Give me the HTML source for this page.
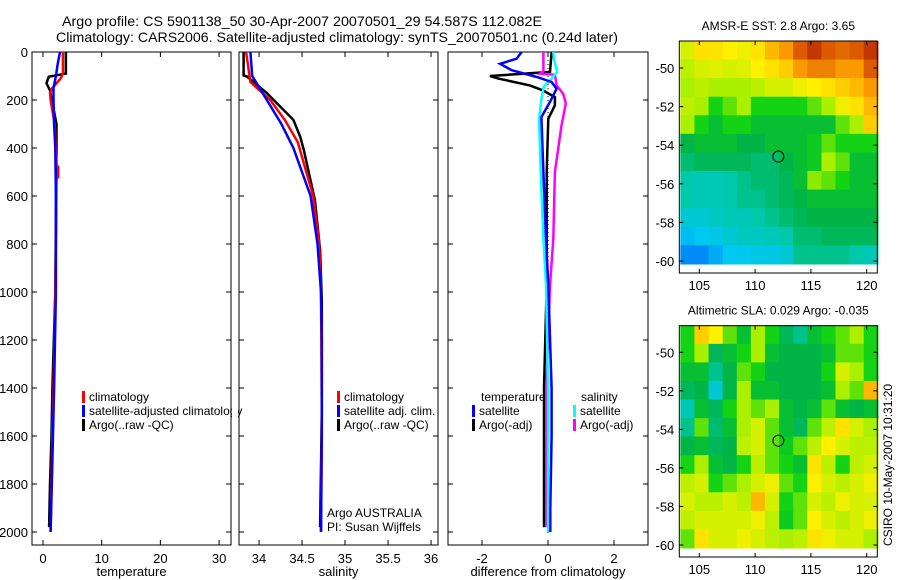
<!DOCTYPE html>
<html><head><meta charset="utf-8"><style>
html,body{margin:0;padding:0;background:#fff;}
svg{display:block;font-family:"Liberation Sans",Arial,sans-serif;}
</style></head><body>
<svg id="chart" width="900" height="580" viewBox="0 0 900 580" xmlns="http://www.w3.org/2000/svg">
<text x="62" y="26" font-size="14" textLength="480" lengthAdjust="spacingAndGlyphs">Argo profile: CS 5901138_50 30-Apr-2007 20070501_29 54.587S 112.082E</text>
<text x="56" y="42" font-size="14" textLength="562" lengthAdjust="spacingAndGlyphs">Climatology: CARS2006. Satellite-adjusted climatology: synTS_20070501.nc (0.24d later)</text>
<g id="plots"></g>
<text x="327" y="517" font-size="12">Argo AUSTRALIA</text>
<text x="327" y="531" font-size="12">PI: Susan Wijffels</text>
<text transform="translate(892,546) rotate(-90)" font-size="12">CSIRO 10-May-2007 10:31:20</text>
</svg>
<script>
// ---------- profile data ----------
const tempClimP = [0,90,110,130,150,170,200,300,470,480,520,530,800,1200,1600,2000];
const tempClimV = [3.4,3.4,3.0,2.3,1.6,1.2,1.3,2.0,2.3,2.6,2.6,2.3,2.2,2.0,1.6,1.3];
const tempSatP = [0,50,100,150,200,300,400,600,1000,1400,1700,1900,2000];
const tempSatV = [2.9,2.5,2.2,1.8,1.8,1.9,2.1,2.2,2.2,1.9,1.6,1.4,1.3];
const tempArgoP = [0,90,103,130,160,200,300,400,1000,1400,1600,1800,1980];
const tempArgoV = [3.9,3.9,1.0,0.6,1.2,1.5,2.3,2.3,2.1,1.6,1.45,1.2,1.05];

const salClimP = [0,125,200,283,375,600,800,1000,1500,2000];
const salClimV = [33.85,33.9,34.13,34.3,34.45,34.63,34.70,34.72,34.73,34.72];
const salSatP = [0,100,200,300,400,600,800,1000,1200,1600,2000];
const salSatV = [33.9,33.92,34.09,34.26,34.4,34.6,34.68,34.72,34.73,34.73,34.72];
const salArgoP = [0,98,102,171,283,354,408,617,825,1033,1500,1980];
const salArgoV = [33.82,33.82,33.86,34.09,34.40,34.48,34.52,34.65,34.71,34.73,34.73,34.71];

const dTsatP = [0,28,49,76,104,125,153,208,271,500,778,972,1400,1600,1900,2000];
const dTsatV = [-0.8,-0.95,-1.45,-1.1,-0.34,0.11,0.26,0.06,-0.2,-0.14,-0.06,0.01,0.11,0.11,0.07,0.07];
const dTargoP = [0,83,100,111,139,160,188,222,278,500,972,1400,1980];
const dTargoV = [0.11,0.06,-1.76,-1.5,-0.55,-0.15,0.21,0.21,0.01,-0.04,-0.04,-0.12,-0.12];
const dSargoP = [0,80,90,95,139,174,215,306,500,778,972,1400,1980];
const dSargoV = [-0.14,-0.14,-0.24,0.21,0.26,0.46,0.54,0.41,0.21,0.16,0.06,-0.05,-0.05];
const dSsatP = [0,30,83,111,146,194,278,500,778,972,1400,2000];
const dSsatV = [0.16,0.18,0.28,0.11,-0.13,-0.2,-0.27,-0.22,-0.14,-0.06,0.0,0.0];

const depthTicks = [0,200,400,600,800,1000,1200,1400,1600,1800,2000];
const tempTicks = [0,10,20,30];
const salTicks = [34,34.5,35,35.5,36];
const diffTicks = [-2,0,2];

// ---------- map data ----------
const mapLons = [103.3,121.0];
const mapLats = [-48.6,-60.15];
const lonTicks = [105,110,115,120];
const latTicks = [-50,-52,-54,-56,-58,-60];
const argoLon = 112.082;
const argoLat = -54.587;
const sstGrid = [
[0.65,0.72,0.72,0.7,0.68,0.72,0.78,0.82,0.9,0.95,0.9,0.88,0.9,0.95],
[0.62,0.65,0.66,0.65,0.66,0.7,0.72,0.75,0.82,0.85,0.85,0.82,0.82,0.9],
[0.6,0.62,0.6,0.6,0.6,0.62,0.65,0.65,0.68,0.7,0.72,0.75,0.78,0.82],
[0.62,0.6,0.5,0.55,0.6,0.5,0.5,0.5,0.5,0.55,0.6,0.68,0.72,0.78],
[0.6,0.5,0.45,0.5,0.5,0.45,0.45,0.45,0.45,0.45,0.45,0.55,0.6,0.75],
[0.42,0.45,0.45,0.45,0.42,0.42,0.45,0.45,0.45,0.48,0.55,0.5,0.5,0.5],
[0.38,0.4,0.4,0.4,0.4,0.38,0.38,0.42,0.45,0.48,0.6,0.55,0.45,0.45],
[0.32,0.3,0.3,0.32,0.35,0.38,0.38,0.4,0.45,0.58,0.55,0.5,0.45,0.45],
[0.32,0.3,0.3,0.32,0.35,0.35,0.38,0.4,0.42,0.45,0.45,0.45,0.45,0.45],
[0.25,0.25,0.28,0.3,0.3,0.32,0.35,0.38,0.4,0.42,0.42,0.42,0.42,0.42],
[0.18,0.2,0.22,0.25,0.28,0.28,0.3,0.32,0.38,0.38,0.4,0.4,0.4,0.4],
[0.1,0.1,0.15,0.2,0.2,0.22,0.22,0.25,0.35,0.35,0.35,0.35,0.32,0.3]
];
const slaGrid = [
[0.5,0.75,0.7,0.55,0.45,0.6,0.5,0.4,0.35,0.45,0.5,0.55,0.6,0.5],
[0.5,0.6,0.4,0.45,0.5,0.6,0.45,0.42,0.42,0.42,0.45,0.55,0.55,0.5],
[0.45,0.45,0.35,0.42,0.55,0.5,0.42,0.42,0.42,0.42,0.5,0.65,0.6,0.5],
[0.4,0.42,0.25,0.42,0.6,0.45,0.45,0.42,0.42,0.42,0.45,0.6,0.55,0.78],
[0.3,0.45,0.4,0.5,0.6,0.55,0.6,0.45,0.42,0.45,0.55,0.45,0.42,0.45],
[0.35,0.55,0.38,0.45,0.6,0.65,0.55,0.45,0.4,0.55,0.62,0.72,0.65,0.6],
[0.42,0.45,0.4,0.42,0.62,0.65,0.55,0.48,0.55,0.62,0.7,0.65,0.62,0.62],
[0.5,0.6,0.45,0.42,0.5,0.62,0.55,0.5,0.45,0.72,0.62,0.5,0.62,0.65],
[0.62,0.65,0.5,0.55,0.6,0.65,0.68,0.55,0.5,0.7,0.65,0.62,0.65,0.68],
[0.65,0.62,0.62,0.65,0.62,0.78,0.65,0.5,0.55,0.65,0.62,0.68,0.65,0.65],
[0.62,0.65,0.65,0.65,0.65,0.68,0.62,0.48,0.55,0.7,0.65,0.62,0.65,0.68],
[0.55,0.72,0.65,0.65,0.68,0.65,0.62,0.6,0.62,0.72,0.68,0.65,0.65,0.6]
];

const NS = "http://www.w3.org/2000/svg";
const root = document.getElementById('plots');
function mk(tag, attrs, parent){
  const e = document.createElementNS(NS, tag);
  for (const k in attrs) e.setAttribute(k, attrs[k]);
  (parent||root).appendChild(e);
  return e;
}
// depth axis
const yTop = 52, yPx = 0.24;
const yDepth = p => yTop + p*yPx;
const PB = 545;

function panel(name, x0, x1, dmin, dmax, ticks, label, leftLabels){
  const xs = v => x0 + (v-dmin)/(dmax-dmin)*(x1-x0);
  const g = mk('g', {});
  
  
  const fr = mk('rect', {x:x0, y:yTop, width:x1-x0, height:PB-yTop, fill:'none', stroke:'#000', 'stroke-width':1}, g);
  
  
  ticks.forEach(t=>{
    const x = xs(t);
    mk('line',{x1:x,x2:x,y1:PB,y2:PB-5,stroke:'#000'},g);
    mk('line',{x1:x,x2:x,y1:yTop,y2:yTop+5,stroke:'#000'},g);
    const tl = mk('text',{x:x,y:PB+18,'font-size':13,'text-anchor':'middle'},g);
    tl.textContent = t;
    
    
  });
  depthTicks.forEach(p=>{
    const y = yDepth(p);
    mk('line',{x1:x0,x2:x0+5,y1:y,y2:y,stroke:'#000'},g);
    mk('line',{x1:x1,x2:x1-5,y1:y,y2:y,stroke:'#000'},g);
    if (leftLabels){
      const tl = mk('text',{x:28,y:y+5,'font-size':13,'text-anchor':'end'},g);
      tl.textContent = p;
      
      
    }
  });
  const al = mk('text',{x:(x0+x1)/2,y:576,'font-size':13,'text-anchor':'middle'},g);
  al.textContent = label;
  
  
  return {g, xs};
}
function series(pan, P, V, color, w, nm){
  const pts = P.map((p,i)=>pan.xs(V[i]).toFixed(1)+','+yDepth(p).toFixed(1)).join(' ');
  const l = mk('polyline',{points:pts,fill:'none',stroke:color,'stroke-width':w,'stroke-linejoin':'miter'},pan.g);
  
  
}
function legend(pan, x, y, color, text, nm){
  const b = mk('rect',{x:x,y:y-9,width:3,height:12,fill:color},pan.g);
  
  
  if (text){
    const t = mk('text',{x:x+7,y:y+1,'font-size':12},pan.g);
    t.textContent = text;
    
    
  }
}

// temperature panel
const pT = panel('temperature-panel', 32, 231, -1.87, 32.03, tempTicks, 'temperature', true);
series(pT, tempArgoP, tempArgoV, '#000', 2.5, 'temp-argo-line');
series(pT, tempClimP, tempClimV, '#f00', 2.5, 'temp-climatology-line');
series(pT, tempSatP, tempSatV, '#00f', 2.5, 'temp-satellite-line');
legend(pT, 82, 400, '#f00', 'climatology', 'legend-climatology');
legend(pT, 82, 414, '#00f', 'satellite-adjusted climatology', 'legend-satellite-adjusted');
legend(pT, 82, 428, '#000', 'Argo(..raw -QC)', 'legend-argo');
mk('rect',{x:232,y:380,width:6,height:60,fill:'#fff'});

// salinity panel
const pS = panel('salinity-panel', 239, 438, 33.767, 36.081, salTicks, 'salinity', false);
series(pS, salArgoP, salArgoV, '#000', 2.5, 'sal-argo-line');
series(pS, salClimP, salClimV, '#f00', 2.5, 'sal-climatology-line');
series(pS, salSatP, salSatV, '#00f', 2.5, 'sal-satellite-line');
legend(pS, 337, 400, '#f00', 'climatology', 'legend-sal-climatology');
legend(pS, 337, 414, '#00f', 'satellite adj. clim.', 'legend-sal-satellite');
legend(pS, 337, 428, '#000', 'Argo(..raw -QC)', 'legend-sal-argo');

// difference panel
const pD = panel('difference-panel', 448, 648, -3.03, 3.03, diffTicks, 'difference from climatology', false);
const z = pD.xs(0);
const zl = mk('line',{x1:z,x2:z,y1:yTop,y2:PB-10,stroke:'#000','stroke-dasharray':'1,3'},pD.g);


series(pD, dTargoP, dTargoV, '#000', 2.5, 'diff-temp-argo-line');
series(pD, dSargoP, dSargoV, '#f0f', 2.5, 'diff-sal-argo-line');
series(pD, dSsatP, dSsatV, '#0ff', 2.5, 'diff-sal-satellite-line');
series(pD, dTsatP, dTsatV, '#00f', 2.5, 'diff-temp-satellite-line');
const tH = mk('text',{x:481,y:401,'font-size':12},pD.g); tH.textContent='temperature';


const sH = mk('text',{x:581,y:401,'font-size':12},pD.g); sH.textContent='salinity';


legend(pD, 472, 414, '#00f', 'satellite', 'legend-diff-temp-satellite');
legend(pD, 472, 428, '#000', 'Argo(-adj)', 'legend-diff-temp-argo');
legend(pD, 573, 414, '#0ff', 'satellite', 'legend-diff-sal-satellite');
legend(pD, 573, 428, '#f0f', 'Argo(-adj)', 'legend-diff-sal-argo');

// ---------- maps ----------
const cstops = [[0,[0,80,255]],[0.2,[0,200,240]],[0.32,[0,200,170]],[0.42,[0,180,70]],[0.5,[20,210,20]],[0.6,[170,240,0]],[0.7,[255,240,0]],[0.8,[255,170,0]],[0.9,[220,90,0]],[1,[170,20,0]]];
function cmap(v){
  for (let i=1;i<cstops.length;i++){
    if (v<=cstops[i][0]){
      const a=cstops[i-1], b=cstops[i], t=(v-a[0])/(b[0]-a[0]);
      const c=a[1].map((q,k)=>Math.round(q+(b[1][k]-q)*t));
      return 'rgb('+c.join(',')+')';
    }
  }
  return 'rgb(170,20,0)';
}
function drawMap(name, title, grid, fx0, fy0, fx1, fy1, yLat50, yLat60, imgBottom){
  const g = mk('g',{});
  
  
  const lonX = lon => 699.3 + (lon-105)*(866.7-699.3)/15;
  const latY = lat => yLat50 + (-50-lat)*(yLat60-yLat50)/10;
  const gx0 = lonX(mapLons[0]), gx1 = lonX(mapLons[1]);
  const gy0 = latY(mapLats[0]), gy1 = latY(mapLats[1]);
  const rows = grid.length, cols = grid[0].length;
  const cw = (gx1-gx0)/cols, ch = (gy1-gy0)/rows;
  grid.forEach((row,r)=>row.forEach((v,c)=>{
    const cell = mk('rect',{x:(gx0+c*cw).toFixed(2),y:(gy0+r*ch).toFixed(2),width:(cw+0.6).toFixed(2),height:(ch+0.6).toFixed(2),fill:cmap(v)},g);
    
    
  }));
  const fr = mk('rect',{x:fx0,y:fy0,width:fx1-fx0,height:fy1-fy0,fill:'none',stroke:'#000'},g);
  
  
  lonTicks.forEach(l=>{
    const x=lonX(l);
    mk('line',{x1:x,x2:x,y1:fy1,y2:fy1-4,stroke:'#000'},g);
    mk('line',{x1:x,x2:x,y1:fy0,y2:fy0+4,stroke:'#000'},g);
    const t=mk('text',{x:x,y:fy1+17,'font-size':13,'text-anchor':'middle'},g);
    t.textContent=l;
    
    
  });
  latTicks.forEach(l=>{
    const y=latY(l);
    mk('line',{x1:fx0,x2:fx0+4,y1:y,y2:y,stroke:'#000'},g);
    mk('line',{x1:fx1,x2:fx1-4,y1:y,y2:y,stroke:'#000'},g);
    const t=mk('text',{x:fx0-5,y:y+5,'font-size':13,'text-anchor':'end'},g);
    t.textContent=l;
    
    
  });
  const c = mk('circle',{cx:lonX(argoLon),cy:latY(argoLat),r:5.5,fill:'none',stroke:'#000','stroke-width':1},g);
  
  
  const tt = mk('text',{x:(fx0+fx1)/2,y:fy0-11,'font-size':12,'text-anchor':'middle'},g);
  tt.textContent = title;
  
  
}
drawMap('sst-map','AMSR-E SST: 2.8 Argo: 3.65', sstGrid, 679.3, 41, 877.3, 273, 68, 261, 264);
drawMap('sla-map','Altimetric SLA: 0.029 Argo: -0.035', slaGrid, 679.3, 325.7, 877.3, 557, 352.3, 545, 548);
</script>
</body></html>
